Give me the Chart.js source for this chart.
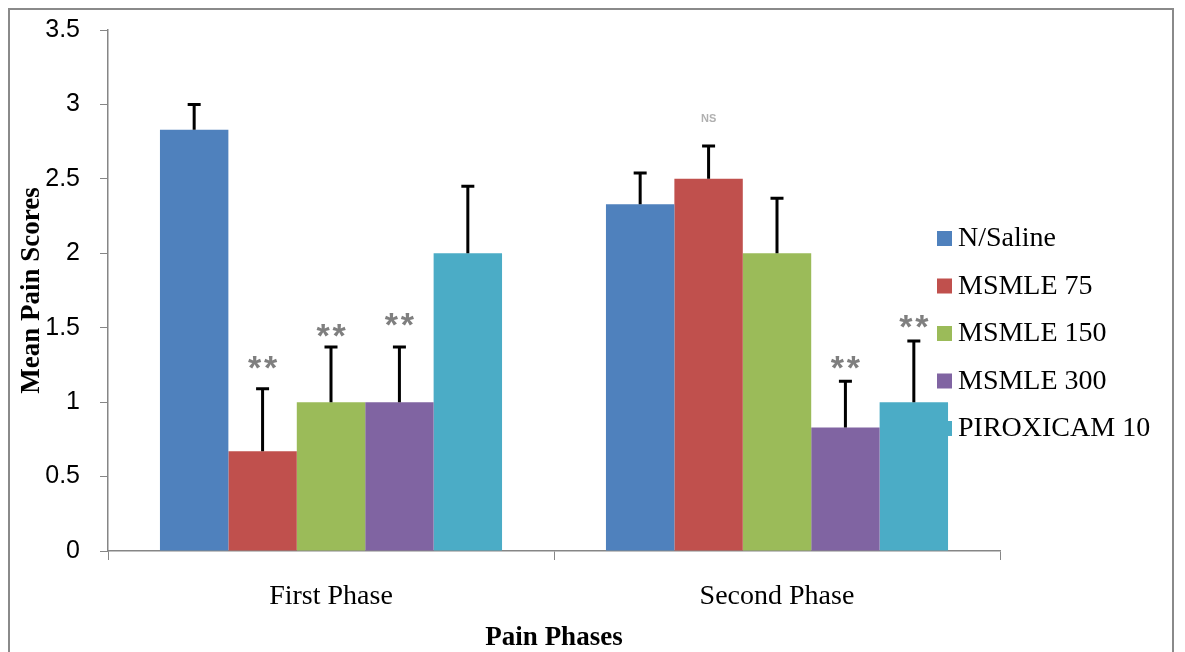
<!DOCTYPE html>
<html>
<head>
<meta charset="utf-8">
<script src="https://cdn.jsdelivr.net/npm/chart.js@4.4.0/dist/chart.umd.min.js"></script>
<style>
html,body{margin:0;padding:0;background:#fff;}
#c{display:block;}
</style>
</head>
<body>
<canvas id="c" width="1185" height="652"></canvas>
<script>
// ---- data ----
const categories = ['First Phase', 'Second Phase'];
const seriesNames = ['N/Saline', 'MSMLE 75', 'MSMLE 150', 'MSMLE 300', 'PIROXICAM 10'];
const nSaline    = [2.83, 2.33];
const msmle75    = [0.67, 2.50];
const msmle150   = [1.00, 2.00];
const msmle300   = [1.00, 0.83];
const piroxicam  = [2.00, 1.00];
// upper error (SEM)
const errSaline    = [0.17, 0.21];
const errMsmle75   = [0.42, 0.22];
const errMsmle150  = [0.37, 0.37];
const errMsmle300  = [0.37, 0.31];
const errPiroxicam = [0.45, 0.41];
// significance marks: [series index, category index, label, value level]
const sigSeries = [1, 2, 3, 3, 4, 1];
const sigCat    = [0, 0, 0, 1, 1, 1];
const sigText   = ['**', '**', '**', '**', '**', 'NS'];
const sigLevel  = [1.27, 1.485, 1.56, 1.27, 1.55, 2.90];
const yTicks = [0, 0.5, 1, 1.5, 2, 2.5, 3, 3.5];

const colors = ['#4F81BD', '#C0504D', '#9BBB59', '#8064A2', '#4BACC6'];
const values = [nSaline, msmle75, msmle150, msmle300, piroxicam];
const errors = [errSaline, errMsmle75, errMsmle150, errMsmle300, errPiroxicam];

const frame = {
  id: 'frame',
  beforeDraw(chart) {
    const ctx = chart.ctx;
    ctx.save();
    ctx.fillStyle = '#fff';
    ctx.fillRect(0, 0, chart.width, chart.height);
    ctx.strokeStyle = '#8a8a8a';
    ctx.lineWidth = 2;
    ctx.strokeRect(9, 9, 1164, 700);
    ctx.restore();
  }
};

const errorBars = {
  id: 'errorBars',
  afterDatasetsDraw(chart) {
    const ctx = chart.ctx;
    const ys = chart.scales.y;
    ctx.save();
    ctx.strokeStyle = '#000';
    ctx.lineWidth = 3;
    chart.data.datasets.forEach((ds, i) => {
      const meta = chart.getDatasetMeta(i);
      meta.data.forEach((bar, j) => {
        const top = ys.getPixelForValue(ds.data[j] + errors[i][j]);
        const base = ys.getPixelForValue(ds.data[j]);
        ctx.beginPath();
        ctx.moveTo(bar.x, base);
        ctx.lineTo(bar.x, top);
        ctx.moveTo(bar.x - 6.5, top);
        ctx.lineTo(bar.x + 6.5, top);
        ctx.stroke();
      });
    });
    // significance labels
    ctx.textAlign = 'center';
    ctx.textBaseline = 'middle';
    sigText.forEach((t, k) => {
      const bar = chart.getDatasetMeta(sigSeries[k]).data[sigCat[k]];
      const y = ys.getPixelForValue(sigLevel[k]);
      if (t === 'NS') {
        ctx.fillStyle = '#b0b0b0';
        ctx.font = 'bold 11px "Liberation Sans"';
        ctx.fillText(t, bar.x, y);
      } else {
        ctx.fillStyle = '#7f7f7f';
        ctx.font = 'bold 34px "Liberation Sans"';
        ctx.fillText('*', bar.x - 8, y + 8);
        ctx.fillText('*', bar.x + 8, y + 8);
      }
    });
    ctx.restore();
  }
};

const legendPlugin = {
  id: 'customLegend',
  afterDraw(chart) {
    const ctx = chart.ctx;
    ctx.save();
    ctx.font = '28px "Liberation Serif"';
    ctx.textBaseline = 'middle';
    ctx.textAlign = 'left';
    seriesNames.forEach((n, i) => {
      const y = 238 + i * 47.5;
      ctx.fillStyle = colors[i];
      ctx.fillRect(937, y - 7, 15, 15);
      ctx.fillStyle = '#000';
      ctx.fillText(n, 958, y + 1);
    });
    ctx.restore();
  }
};

new Chart(document.getElementById('c'), {
  type: 'bar',
  data: {
    labels: categories,
    datasets: seriesNames.map((n, i) => ({
      label: n,
      data: values[i],
      backgroundColor: colors[i],
      borderWidth: 0,
      categoryPercentage: 0.767,
      barPercentage: 1.0
    }))
  },
  options: {
    responsive: false,
    devicePixelRatio: 1,
    animation: false,
    layout: { padding: { top: 30, right: 185, left: 14, bottom: 0 } },
    plugins: { legend: { display: false }, tooltip: { enabled: false } },
    scales: {
      x: {
        afterFit(s) { s.height = 101; s.paddingLeft = 0; s.paddingRight = 0; },
        grid: { drawOnChartArea: false, drawTicks: true, tickLength: 9, color: '#868686', offset: true },
        border: { display: true, color: '#868686', width: 1.5 },
        ticks: { color: '#000', font: { family: '"Liberation Serif"', size: 28 }, padding: 20 },
        title: { display: true, text: 'Pain Phases', color: '#000', font: { family: '"Liberation Serif"', size: 27, weight: 'bold' }, padding: { top: 0, bottom: -2 } }
      },
      y: {
        min: 0, max: 3.5,
        afterFit(s) { s.width = 94; s.paddingTop = 0; s.paddingBottom = 0; },
        afterBuildTicks(s) { s.ticks = yTicks.map(v => ({ value: v })); },
        grid: { drawOnChartArea: false, drawTicks: true, tickLength: 8, color: '#868686' },
        border: { display: true, color: '#868686', width: 1.5 },
        ticks: { color: '#000', font: { family: '"Liberation Sans"', size: 25 }, padding: 20, callback: v => String(v) },
        title: { display: true, text: 'Mean Pain Scores', color: '#000', font: { family: '"Liberation Serif"', size: 27, weight: 'bold' }, padding: { top: 2, bottom: 0 } }
      }
    }
  },
  plugins: [frame, errorBars, legendPlugin]
});
</script>
</body>
</html>
